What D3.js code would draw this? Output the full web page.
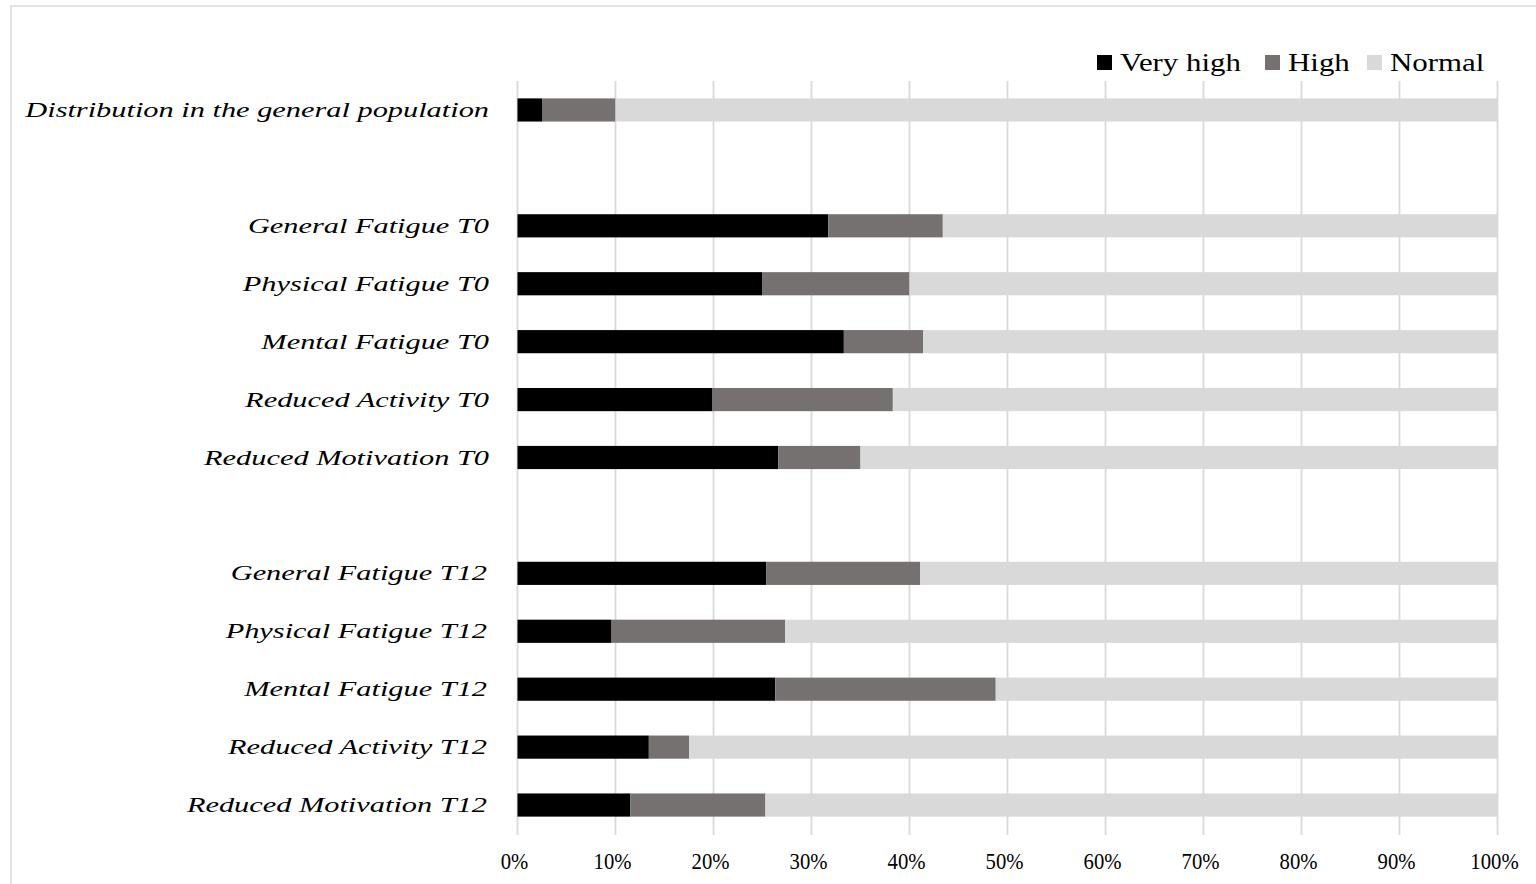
<!DOCTYPE html>
<html>
<head>
<meta charset="utf-8">
<script src="https://cdn.jsdelivr.net/npm/d3@7"></script>
<style>
html,body{margin:0;padding:0;background:#fff;}
svg{display:block;}
text{font-family:"Liberation Serif","Times New Roman",serif;}
</style>
</head>
<body>
<svg id="chart" width="1536" height="884"></svg>
<script>
const categories = [
  "Distribution in the general population",
  "",
  "General Fatigue T0",
  "Physical Fatigue T0",
  "Mental Fatigue T0",
  "Reduced Activity T0",
  "Reduced Motivation T0",
  " ",
  "General Fatigue T12",
  "Physical Fatigue T12",
  "Mental Fatigue T12",
  "Reduced Activity T12",
  "Reduced Motivation T12"
];
const veryHigh = [2.5, null, 31.7, 25.0, 33.3, 19.9, 26.6, null, 25.4, 9.6, 26.3, 13.4, 11.5];
const high     = [7.5, null, 11.7, 15.0, 8.1, 18.4, 8.4, null, 15.7, 17.7, 22.5, 4.1, 13.8];
const normal   = [90.0, null, 56.6, 60.0, 58.6, 61.7, 65.0, null, 58.9, 72.7, 51.2, 82.5, 74.7];
const seriesNames = ["Very high", "High", "Normal"];
const seriesColors = ["#000000", "#767171", "#d9d9d9"];
const xTicks = [0, 10, 20, 30, 40, 50, 60, 70, 80, 90, 100];

const svg = d3.select("#chart");

// chart border
svg.append("rect").attr("x", 11).attr("y", 6).attr("width", 1540).attr("height", 900)
  .attr("fill", "none").attr("stroke", "#d9d9d9").attr("stroke-width", 1.5);

const x = d3.scaleLinear().domain([0, 100]).range([517.5, 1497.5]);
const y = d3.scaleBand().domain(d3.range(categories.length)).range([81, 834])
  .paddingInner(0.6).paddingOuter(0.3);

// gridlines
svg.append("g").selectAll("line").data(xTicks).join("line")
  .attr("x1", d => x(d)).attr("x2", d => x(d))
  .attr("y1", 81).attr("y2", 835)
  .attr("stroke", "#d9d9d9").attr("stroke-width", 1.8);

// stacked data
const rows = categories.map((c, i) => ({i, "Very high": veryHigh[i] || 0, "High": high[i] || 0, "Normal": normal[i] || 0, blank: veryHigh[i] == null}));
const stack = d3.stack().keys(seriesNames)(rows.filter(r => !r.blank));

svg.append("g").selectAll("g").data(stack).join("g")
  .attr("fill", (d, k) => seriesColors[k])
  .selectAll("rect").data(d => d).join("rect")
  .attr("x", d => x(d[0]))
  .attr("width", d => x(d[1]) - x(d[0]))
  .attr("y", d => y(d.data.i))
  .attr("height", y.bandwidth());

// category labels
const labG = svg.append("g");
const labels = labG.selectAll("text").data(categories.map((c, i) => ({c, i})).filter(d => d.c.trim() !== ""))
  .join("text")
  .attr("font-size", 21).attr("font-style", "italic").attr("fill", "#000")
  .attr("text-anchor", "end")
  .text(d => d.c);
let maxW = 0;
labels.each(function(){ maxW = Math.max(maxW, this.getComputedTextLength()); });
const kLab = 464 / maxW;
labels.attr("transform", d => `translate(${d.i >= 8 ? 487 : 489},${y(d.i) + y.bandwidth()/2 + 7}) scale(${kLab},1)`);

// x tick labels
svg.append("g").selectAll("text").data(xTicks).join("text")
  .attr("transform", d => `translate(${x(d) - 3},869) scale(0.9,1)`)
  .attr("text-anchor", "middle").attr("font-size", 23).attr("fill", "#000")
  .text(d => d + "%");

// legend
const legX = [1097, 1265, 1367];
const leg = svg.append("g");
seriesNames.forEach((s, k) => {
  leg.append("rect").attr("x", legX[k]).attr("y", 55).attr("width", 15).attr("height", 15).attr("fill", seriesColors[k]);
  const t = leg.append("text").attr("font-size", 25).attr("fill", "#000").text(s);
  t.attr("data-k", k);
});
let wVH = leg.select("text").node().getComputedTextLength();
const kLeg = 121 / wVH;
leg.selectAll("text").attr("transform", function(){ const k = +this.getAttribute("data-k"); return `translate(${legX[k] + 23},71) scale(${kLeg},1)`; });
</script>
</body>
</html>
